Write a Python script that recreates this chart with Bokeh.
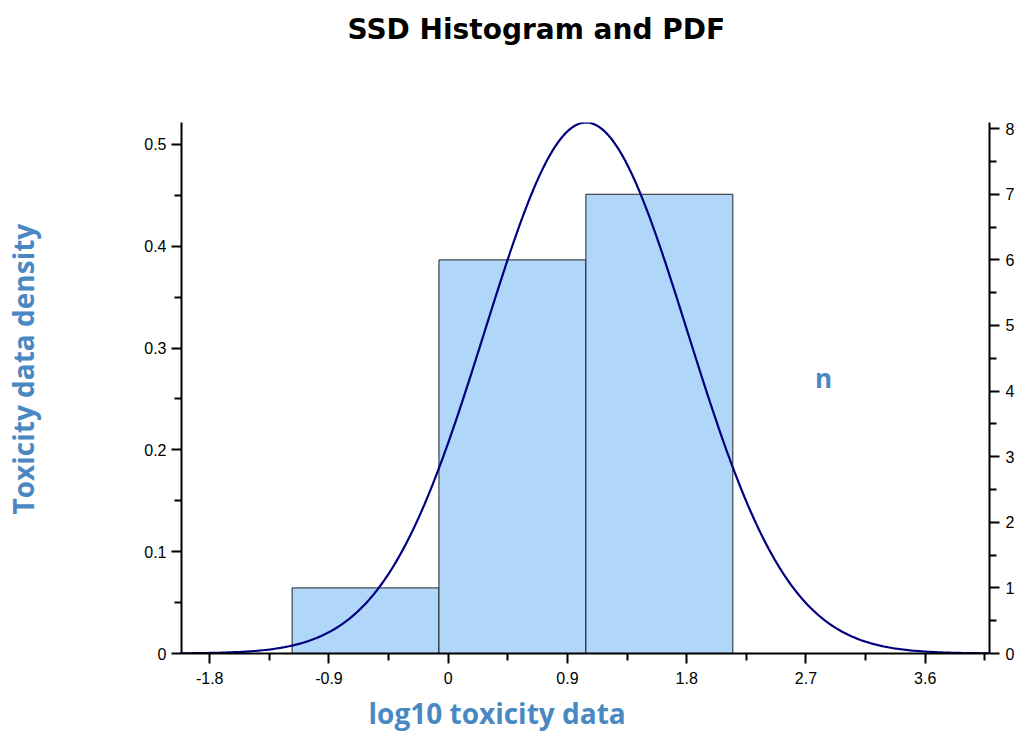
import numpy as np
from bokeh.plotting import figure
from bokeh.models import Range1d, LinearAxis, FixedTicker, Label, Title, CustomJSTickFormatter
from bokeh.embed import file_html
from bokeh.resources import INLINE

# ---- data ----
bin_edges = [-1.178, -0.070, 1.039, 2.148]      # log10 toxicity bin edges
counts = [1, 6, 7]                               # species per bin (right axis, n)
pdf_mean = 1.04                                  # fitted normal mean (log10)
pdf_sd = 0.765                                   # fitted normal sd (log10)
x_limits = [-2.013, 4.085]
x_ticks = [-1.8, -0.9, 0.0, 0.9, 1.8, 2.7, 3.6]
x_minor = [-1.35, -0.45, 0.45, 1.35, 2.25, 3.15, 4.05]
y_ticks = [0.0, 0.1, 0.2, 0.3, 0.4, 0.5]
y_minor = [0.05, 0.15, 0.25, 0.35, 0.45]
n_ticks = [0, 1, 2, 3, 4, 5, 6, 7, 8]
n_minor = [0.5, 1.5, 2.5, 3.5, 4.5, 5.5, 6.5, 7.5]

title_text = "SSD Histogram and PDF"
x_label = "log10 toxicity data"
y_label = "Toxicity data density"
n_label = "n"

# ---- derived ----
n_total = sum(counts)
bin_w = (bin_edges[-1] - bin_edges[0]) / len(counts)
xs = np.linspace(x_limits[0], x_limits[1], 400)
pdf = np.exp(-0.5 * ((xs - pdf_mean) / pdf_sd) ** 2) / (pdf_sd * np.sqrt(2 * np.pi))
left_top = float(pdf.max())
right_top = left_top * n_total * bin_w

LABEL_BLUE = "#4A88C2"

p = figure(width=1020, height=733, output_backend="svg", toolbar_location=None,
           x_range=Range1d(*x_limits), y_range=Range1d(0, left_top),
           min_border_left=181, min_border_right=31, min_border_top=122,
           min_border_bottom=80)
p.extra_y_ranges = {"count": Range1d(0, right_top)}
p.xgrid.visible = False
p.ygrid.visible = False
p.outline_line_color = None
p.background_fill_color = "white"
p.border_fill_color = "white"

p.quad(left=bin_edges[:-1], right=bin_edges[1:], bottom=[0] * len(counts), top=counts,
       y_range_name="count", fill_color="#B0D6FA", line_color="#222222", line_width=1)
p.line(xs, pdf, line_color="#000080", line_width=2.2)

right_axis = LinearAxis(y_range_name="count")
p.add_layout(right_axis, "right")

fmt = CustomJSTickFormatter(code="return tick == 0 ? '0' : tick.toFixed(1);")

xa = p.xaxis[0]
xa.ticker = FixedTicker(ticks=x_ticks, minor_ticks=x_minor)
xa.formatter = fmt
ya = p.yaxis[0]
ya.ticker = FixedTicker(ticks=y_ticks, minor_ticks=y_minor)
ya.formatter = fmt
right_axis.ticker = FixedTicker(ticks=n_ticks, minor_ticks=n_minor)

for ax in (xa, ya, right_axis):
    ax.axis_line_width = 2
    ax.axis_line_color = "black"
    ax.major_tick_line_width = 2
    ax.minor_tick_line_width = 2
    ax.major_tick_line_color = "black"
    ax.minor_tick_line_color = "black"
    ax.major_tick_out = 10
    ax.major_tick_in = 0
    ax.minor_tick_out = 7
    ax.minor_tick_in = 0
    ax.major_label_text_font = "Liberation Sans"
    ax.major_label_text_font_size = "16px"
    ax.major_label_text_color = "black"
xa.major_label_standoff = 8
ya.major_label_standoff = 5
right_axis.major_label_standoff = 6

# title
p.title.text = title_text
p.title.align = "left"
p.title.offset = 166
p.title.standoff = 0
p.title.padding = dict(left=0, right=0, top=0, bottom=77)
p.title.text_font = "DejaVu Sans"
p.title.text_font_style = "bold"
p.title.text_font_size = "28px"
p.title.text_color = "black"

# axis titles as side-panel titles
p.add_layout(Title(text=x_label, align="left", offset=187, standoff=0,
                   padding=dict(left=0, right=0, top=5, bottom=0),
                   text_font="Open Sans", text_font_style="bold",
                   text_font_size="28px", text_color=LABEL_BLUE), "below")
p.add_layout(Title(text=y_label, align="left", offset=139, standoff=0,
                   padding=dict(left=0, right=0, top=0, bottom=100),
                   text_font="Open Sans", text_font_style="bold",
                   text_font_size="28px", text_color=LABEL_BLUE), "left")

# right-axis title, drawn inside the frame as in the reference
p.add_layout(Label(x=642, y=276, x_units="screen", y_units="screen", text=n_label,
                   text_align="center", text_baseline="alphabetic",
                   text_font="Open Sans", text_font_style="bold",
                   text_font_size="26px", text_color=LABEL_BLUE))

open("out.html", "w").write(file_html(p, INLINE))
